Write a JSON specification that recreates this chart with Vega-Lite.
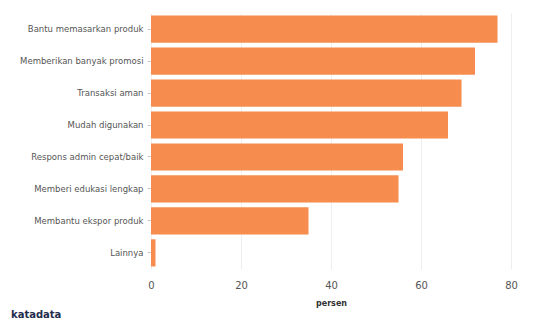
{
  "$schema": "https://vega.github.io/schema/vega-lite/v6.json",
  "width": 360,
  "height": 256,
  "autosize": {"type": "none"},
  "padding": {"left": 151, "top": 13, "right": 25, "bottom": 54},
  "background": "white",
  "title": {"text": "katadata", "orient": "bottom", "anchor": "start", "frame": "group", "offset": 3, "dx": -140, "font": "DejaVu Sans", "fontSize": 10, "fontWeight": "bold", "color": "#1f2d4d"},
  "data": {
    "values": [
      {"kategori": "Bantu memasarkan produk", "persen": 77},
      {"kategori": "Memberikan banyak promosi", "persen": 72},
      {"kategori": "Transaksi aman", "persen": 69},
      {"kategori": "Mudah digunakan", "persen": 66},
      {"kategori": "Respons admin cepat/baik", "persen": 56},
      {"kategori": "Memberi edukasi lengkap", "persen": 55},
      {"kategori": "Membantu ekspor produk", "persen": 35},
      {"kategori": "Lainnya", "persen": 1}
    ]
  },
  "mark": {"type": "bar", "color": "#F68C4E"},
  "encoding": {
    "y": {
      "field": "kategori", "type": "nominal", "sort": null,
      "scale": {"paddingInner": 0.15, "paddingOuter": 0.08},
      "axis": {"title": null, "domain": false, "ticks": true, "tickSize": 4, "tickColor": "#cccccc", "labelPadding": 4, "labelFont": "DejaVu Sans", "labelFontSize": 8.5, "labelColor": "#555555", "labelLimit": 200}
    },
    "x": {
      "field": "persen", "type": "quantitative",
      "scale": {"domain": [0, 80], "nice": false},
      "axis": {"title": "persen", "titleFont": "DejaVu Sans", "titleFontSize": 8, "titleFontWeight": "bold", "titleColor": "#333333", "titlePadding": 9, "values": [0, 20, 40, 60, 80], "labelFlush": false, "domain": false, "ticks": false, "labelPadding": 11, "labelFont": "DejaVu Sans", "labelFontSize": 10, "labelColor": "#555555", "gridColor": "#eeeeee"}
    }
  },
  "config": {"view": {"stroke": null}}
}
